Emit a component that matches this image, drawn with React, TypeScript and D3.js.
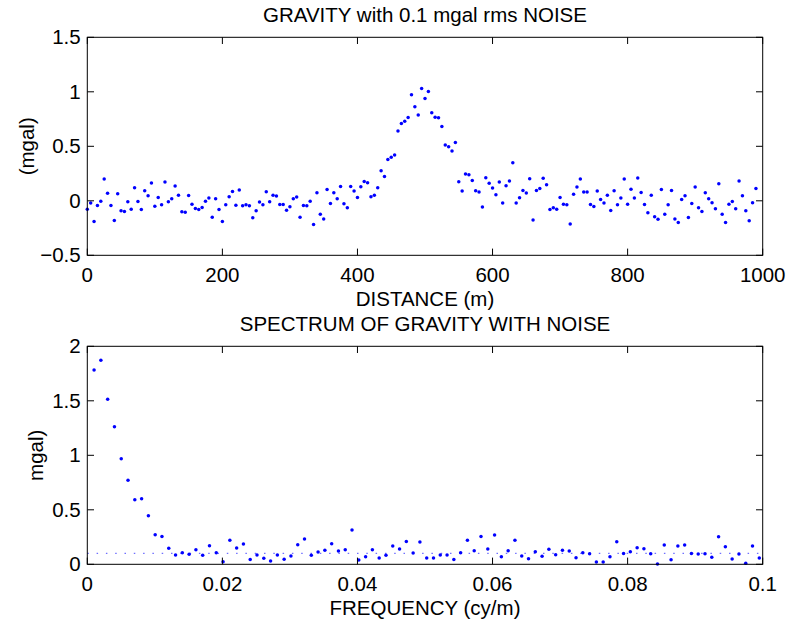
import React from 'react';
import * as d3 from 'd3';

// ---------- data ----------
const distanceStep = 5; // m
const gravityValues = [
  -0.077, -0.021, -0.19, -0.043, -0.003, 0.2, 0.07, -0.043, -0.18, 0.064,
  -0.092, -0.098, -0.009, -0.077, 0.12, -0.006, -0.08, 0.092, 0.046, 0.163,
  -0.049, 0.031, -0.037, 0.172, -0.009, 0.018, 0.135, 0.052, -0.1, -0.104,
  0.049, -0.031, -0.07, -0.08, -0.061, -0.003, 0.025, -0.15, 0.018, -0.08,
  -0.19, -0.037, 0.037, 0.086, -0.04, 0.1, -0.046, -0.037, -0.046, -0.156,
  -0.092, -0.012, -0.037, 0.083, -0.009, 0.052, 0.043, -0.034, -0.034, -0.086,
  -0.055, 0.018, 0.034, -0.15, -0.043, -0.046, -0.003, -0.218, 0.074, -0.123,
  -0.166, 0.104, -0.025, 0.074, 0.018, 0.132, -0.028, -0.064, 0.132, 0.089,
  0.031, 0.129, 0.178, 0.166, 0.037, 0.052, 0.12, 0.276, 0.224, 0.38,
  0.4, 0.42, 0.64, 0.71, 0.73, 0.764, 0.972, 0.862, 0.788, 1.03,
  0.939, 1.003, 0.807, 0.767, 0.761, 0.681, 0.512, 0.497, 0.457, 0.534,
  0.175, 0.089, 0.245, 0.239, 0.187, 0.092, 0.08, -0.058, 0.212, 0.16,
  0.117, 0.055, 0.172, -0.021, 0.138, 0.181, 0.35, -0.021, 0.028, 0.095,
  0.071, 0.202, -0.175, 0.095, 0.113, 0.206, 0.147, -0.08, -0.064, -0.077,
  0.031, -0.031, -0.037, -0.212, 0.061, 0.126, 0.199, 0.08, 0.08, -0.034,
  -0.052, 0.089, 0.012, -0.021, 0.052, -0.089, 0.092, -0.037, 0.025, 0.199,
  -0.031, 0.107, 0.025, 0.209, 0.077, -0.034, -0.11, 0.052, -0.147, -0.169,
  0.104, -0.123, -0.037, 0.095, -0.166, -0.2, 0.012, 0.046, -0.153, -0.025,
  0.126, -0.064, -0.098, 0.074, 0.018, -0.018, -0.074, 0.156, -0.123, -0.2,
  -0.031, -0.006, -0.074, 0.181, 0.046, -0.092, -0.184, -0.018, 0.113,
];

const freqStep = 1 / 995; // cy/m
const spectrumValues = [
  1.783, 1.871, 1.514, 1.261, 0.968, 0.772, 0.592, 0.601, 0.446, 0.272,
  0.256, 0.147, 0.085, 0.107, 0.092, 0.134, 0.082, 0.171, 0.107, 0.024,
  0.22, 0.15, 0.186, 0.043, 0.085, 0.055, 0.031, 0.085, 0.046, 0.076,
  0.18, 0.232, 0.082, 0.113, 0.128, 0.189, 0.122, 0.134, 0.314, 0.039,
  0.07, 0.134, 0.058, 0.082, 0.168, 0.14, 0.21, 0.104, 0.204, 0.058,
  0.058, 0.085, 0.085, 0.045, 0.107, 0.22, 0.125, 0.256, 0.14, 0.268,
  0.07, 0.125, 0.22, 0.076, 0.052, 0.116, 0.073, 0.137, 0.088, 0.128,
  0.122, 0.061, 0.107, 0.097, 0.021, 0.021, 0.07, 0.207, 0.1, 0.116,
  0.152, 0.143, 0.097, 0.002, 0.176, 0.042, 0.167, 0.176, 0.1, 0.094,
  0.097, 0.064, 0.253, 0.161, 0.049, 0.094, 0.009, 0.167, 0.058,
];
const noiseLevel = 0.1;

const topXTicks = [0, 200, 400, 600, 800, 1000];
const topYTicks = [-0.5, 0, 0.5, 1, 1.5];
const botXTicks = [0, 0.02, 0.04, 0.06, 0.08, 0.1];
const botYTicks = [0, 0.5, 1, 1.5, 2];

const topTitle = 'GRAVITY with 0.1 mgal rms NOISE';
const topXLabel = 'DISTANCE (m)';
const topYLabel = '(mgal)';
const botTitle = 'SPECTRUM OF GRAVITY WITH NOISE';
const botXLabel = 'FREQUENCY (cy/m)';
const botYLabel = 'mgal)';

// ---------- layout ----------
const W = 788;
const H = 624;
const FONT = "'Liberation Sans', Arial, Helvetica, sans-serif";
const FS = 20.5;
const left = 87.3;
const right = 762.7;
const TICK = 6.7;

const fmt = (v: number) => {
  const s = String(+v.toFixed(4));
  return s.startsWith('-') ? '\u2212' + s.slice(1) : s;
};

type PanelProps = {
  top: number;
  bottom: number;
  xDomain: [number, number];
  yDomain: [number, number];
  xTicks: number[];
  yTicks: number[];
  points: [number, number][];
  title: string;
  xLabel: string;
  yLabel: string;
  yLabelX: number;
  refLine?: number;
};

function Panel(p: PanelProps) {
  const x = d3.scaleLinear().domain(p.xDomain).range([left, right]);
  const y = d3.scaleLinear().domain(p.yDomain).range([p.bottom, p.top]);
  const cx = (left + right) / 2;
  const cy = (p.top + p.bottom) / 2;
  return (
    <g>
      {p.refLine !== undefined && (
        <line
          x1={x(p.xDomain[0])}
          x2={x(p.xDomain[1])}
          y1={y(p.refLine)}
          y2={y(p.refLine)}
          stroke="#6f6fff"
          strokeWidth={1.2}
          strokeDasharray="1.5 7.8"
        />
      )}
      {p.points.map(([a, b], i) => (
        <circle key={i} cx={x(a)} cy={y(b)} r={1.75} fill="#0000ff" />
      ))}
      <rect
        x={left}
        y={p.top}
        width={right - left}
        height={p.bottom - p.top}
        fill="none"
        stroke="#000"
        strokeWidth={1}
      />
      {p.xTicks.map((t) => (
        <g key={'x' + t}>
          <line x1={x(t)} x2={x(t)} y1={p.bottom} y2={p.bottom - TICK} stroke="#000" />
          <line x1={x(t)} x2={x(t)} y1={p.top} y2={p.top + TICK} stroke="#000" />
          <text
            x={x(t)}
            y={p.bottom + 26.4}
            textAnchor="middle"
            fontFamily={FONT}
            fontSize={FS}
          >
            {fmt(t)}
          </text>
        </g>
      ))}
      {p.yTicks.map((t) => (
        <g key={'y' + t}>
          <line x1={left} x2={left + TICK} y1={y(t)} y2={y(t)} stroke="#000" />
          <line x1={right} x2={right - TICK} y1={y(t)} y2={y(t)} stroke="#000" />
          <text
            x={left - 6.6}
            y={y(t) + 7}
            textAnchor="end"
            fontFamily={FONT}
            fontSize={FS}
          >
            {fmt(t)}
          </text>
        </g>
      ))}
      <text
        x={cx}
        y={p.top - 15.3}
        textAnchor="middle"
        fontFamily={FONT}
        fontSize={FS}
      >
        {p.title}
      </text>
      <text
        x={cx}
        y={p.bottom + 50.7}
        textAnchor="middle"
        fontFamily={FONT}
        fontSize={FS}
      >
        {p.xLabel}
      </text>
      <text
        transform={`translate(${p.yLabelX},${cy}) rotate(-90)`}
        textAnchor="middle"
        fontFamily={FONT}
        fontSize={FS}
      >
        {p.yLabel}
      </text>
    </g>
  );
}

export default function App() {
  const gravityPts: [number, number][] = gravityValues.map((v, i) => [i * distanceStep, v]);
  const spectrumPts: [number, number][] = spectrumValues.map((v, i) => [(i + 1) * freqStep, v]);
  return (
    <svg
      width={W}
      height={H}
      style={{ position: 'absolute', left: 0, top: 0, background: '#fff' }}
    >
      <rect x={0} y={0} width={W} height={H} fill="#fff" />
      <Panel
        top={37.3}
        bottom={255.3}
        xDomain={[0, 1000]}
        yDomain={[-0.5, 1.5]}
        xTicks={topXTicks}
        yTicks={topYTicks}
        points={gravityPts}
        title={topTitle}
        xLabel={topXLabel}
        yLabel={topYLabel}
        yLabelX={34}
      />
      <Panel
        top={346.3}
        bottom={564.3}
        xDomain={[0, 0.1]}
        yDomain={[0, 2]}
        xTicks={botXTicks}
        yTicks={botYTicks}
        points={spectrumPts}
        title={botTitle}
        xLabel={botXLabel}
        yLabel={botYLabel}
        yLabelX={43}
        refLine={noiseLevel}
      />
    </svg>
  );
}
